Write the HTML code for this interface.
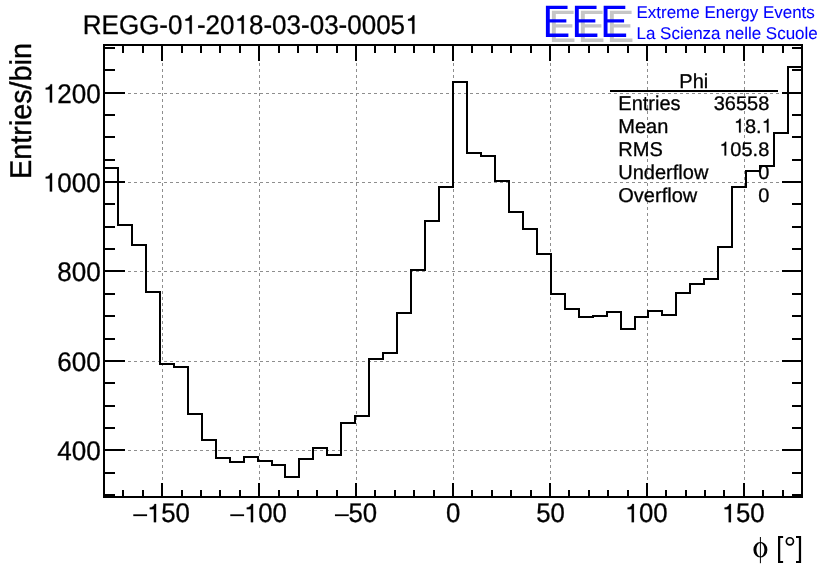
<!DOCTYPE html>
<html><head><meta charset="utf-8"><title>REGG-01-2018-03-03-00051</title>
<style>
html,body{margin:0;padding:0;background:#fff;}
body{width:836px;height:572px;overflow:hidden;font-family:"Liberation Sans",sans-serif;}
svg{display:block;will-change:transform;}
text{font-family:"Liberation Sans",sans-serif;text-rendering:geometricPrecision;}
</style></head><body>
<svg width="836" height="572" viewBox="0 0 836 572">
<g stroke="#8e8e8e" stroke-width="1" stroke-dasharray="3,3" shape-rendering="crispEdges" fill="none">
<line x1="162.5" y1="45" x2="162.5" y2="497"/>
<line x1="259.5" y1="45" x2="259.5" y2="497"/>
<line x1="356.5" y1="45" x2="356.5" y2="497"/>
<line x1="453.5" y1="45" x2="453.5" y2="497"/>
<line x1="550.5" y1="45" x2="550.5" y2="497"/>
<line x1="647.5" y1="45" x2="647.5" y2="497"/>
<line x1="744.5" y1="45" x2="744.5" y2="497"/>
<line x1="104" y1="450.5" x2="802" y2="450.5"/>
<line x1="104" y1="361.5" x2="802" y2="361.5"/>
<line x1="104" y1="271.5" x2="802" y2="271.5"/>
<line x1="104" y1="182.5" x2="802" y2="182.5"/>
<line x1="104" y1="93.5" x2="802" y2="93.5"/>
</g>
<path d="M104,497V168H118V225H132V245H146V292H160V364H174V367H188V414H202V440H216V458H230V462H244V457H258V461H272V465H285V477H299V459H313V448H327V455H341V423H355V416H369V359H383V353H397V313H411V270H425V221H439V187H453V82H467V153H481V156H495V181H509V212H523V229H537V254H551V294H565V309H579V317H593V316H607V312H621V329H635V317H648V311H662V315H676V293H690V284H704V279H718V247H732V187H746V171H760V166H774V133H788V67H802V497" fill="none" stroke="#000" stroke-width="2" stroke-linejoin="miter" stroke-linecap="square" shape-rendering="crispEdges"/>
<g stroke="#000" stroke-width="2" shape-rendering="crispEdges" fill="none">
<rect x="104" y="45" width="698" height="452" fill="none"/>
<line x1="123" y1="45" x2="123" y2="53"/>
<line x1="123" y1="497" x2="123" y2="490"/>
<line x1="143" y1="45" x2="143" y2="53"/>
<line x1="143" y1="497" x2="143" y2="490"/>
<line x1="162" y1="45" x2="162" y2="61"/>
<line x1="162" y1="497" x2="162" y2="483"/>
<line x1="182" y1="45" x2="182" y2="53"/>
<line x1="182" y1="497" x2="182" y2="490"/>
<line x1="201" y1="45" x2="201" y2="53"/>
<line x1="201" y1="497" x2="201" y2="490"/>
<line x1="220" y1="45" x2="220" y2="53"/>
<line x1="220" y1="497" x2="220" y2="490"/>
<line x1="240" y1="45" x2="240" y2="53"/>
<line x1="240" y1="497" x2="240" y2="490"/>
<line x1="259" y1="45" x2="259" y2="61"/>
<line x1="259" y1="497" x2="259" y2="483"/>
<line x1="279" y1="45" x2="279" y2="53"/>
<line x1="279" y1="497" x2="279" y2="490"/>
<line x1="298" y1="45" x2="298" y2="53"/>
<line x1="298" y1="497" x2="298" y2="490"/>
<line x1="317" y1="45" x2="317" y2="53"/>
<line x1="317" y1="497" x2="317" y2="490"/>
<line x1="337" y1="45" x2="337" y2="53"/>
<line x1="337" y1="497" x2="337" y2="490"/>
<line x1="356" y1="45" x2="356" y2="61"/>
<line x1="356" y1="497" x2="356" y2="483"/>
<line x1="375" y1="45" x2="375" y2="53"/>
<line x1="375" y1="497" x2="375" y2="490"/>
<line x1="395" y1="45" x2="395" y2="53"/>
<line x1="395" y1="497" x2="395" y2="490"/>
<line x1="414" y1="45" x2="414" y2="53"/>
<line x1="414" y1="497" x2="414" y2="490"/>
<line x1="434" y1="45" x2="434" y2="53"/>
<line x1="434" y1="497" x2="434" y2="490"/>
<line x1="453" y1="45" x2="453" y2="61"/>
<line x1="453" y1="497" x2="453" y2="483"/>
<line x1="472" y1="45" x2="472" y2="53"/>
<line x1="472" y1="497" x2="472" y2="490"/>
<line x1="492" y1="45" x2="492" y2="53"/>
<line x1="492" y1="497" x2="492" y2="490"/>
<line x1="511" y1="45" x2="511" y2="53"/>
<line x1="511" y1="497" x2="511" y2="490"/>
<line x1="531" y1="45" x2="531" y2="53"/>
<line x1="531" y1="497" x2="531" y2="490"/>
<line x1="550" y1="45" x2="550" y2="61"/>
<line x1="550" y1="497" x2="550" y2="483"/>
<line x1="569" y1="45" x2="569" y2="53"/>
<line x1="569" y1="497" x2="569" y2="490"/>
<line x1="589" y1="45" x2="589" y2="53"/>
<line x1="589" y1="497" x2="589" y2="490"/>
<line x1="608" y1="45" x2="608" y2="53"/>
<line x1="608" y1="497" x2="608" y2="490"/>
<line x1="628" y1="45" x2="628" y2="53"/>
<line x1="628" y1="497" x2="628" y2="490"/>
<line x1="647" y1="45" x2="647" y2="61"/>
<line x1="647" y1="497" x2="647" y2="483"/>
<line x1="666" y1="45" x2="666" y2="53"/>
<line x1="666" y1="497" x2="666" y2="490"/>
<line x1="686" y1="45" x2="686" y2="53"/>
<line x1="686" y1="497" x2="686" y2="490"/>
<line x1="705" y1="45" x2="705" y2="53"/>
<line x1="705" y1="497" x2="705" y2="490"/>
<line x1="724" y1="45" x2="724" y2="53"/>
<line x1="724" y1="497" x2="724" y2="490"/>
<line x1="744" y1="45" x2="744" y2="61"/>
<line x1="744" y1="497" x2="744" y2="483"/>
<line x1="763" y1="45" x2="763" y2="53"/>
<line x1="763" y1="497" x2="763" y2="490"/>
<line x1="783" y1="45" x2="783" y2="53"/>
<line x1="783" y1="497" x2="783" y2="490"/>
<line x1="104" y1="495" x2="115" y2="495"/>
<line x1="802" y1="495" x2="792" y2="495"/>
<line x1="104" y1="473" x2="115" y2="473"/>
<line x1="802" y1="473" x2="792" y2="473"/>
<line x1="104" y1="450" x2="125" y2="450"/>
<line x1="802" y1="450" x2="782" y2="450"/>
<line x1="104" y1="428" x2="115" y2="428"/>
<line x1="802" y1="428" x2="792" y2="428"/>
<line x1="104" y1="406" x2="115" y2="406"/>
<line x1="802" y1="406" x2="792" y2="406"/>
<line x1="104" y1="383" x2="115" y2="383"/>
<line x1="802" y1="383" x2="792" y2="383"/>
<line x1="104" y1="361" x2="125" y2="361"/>
<line x1="802" y1="361" x2="782" y2="361"/>
<line x1="104" y1="339" x2="115" y2="339"/>
<line x1="802" y1="339" x2="792" y2="339"/>
<line x1="104" y1="316" x2="115" y2="316"/>
<line x1="802" y1="316" x2="792" y2="316"/>
<line x1="104" y1="294" x2="115" y2="294"/>
<line x1="802" y1="294" x2="792" y2="294"/>
<line x1="104" y1="271" x2="125" y2="271"/>
<line x1="802" y1="271" x2="782" y2="271"/>
<line x1="104" y1="249" x2="115" y2="249"/>
<line x1="802" y1="249" x2="792" y2="249"/>
<line x1="104" y1="227" x2="115" y2="227"/>
<line x1="802" y1="227" x2="792" y2="227"/>
<line x1="104" y1="204" x2="115" y2="204"/>
<line x1="802" y1="204" x2="792" y2="204"/>
<line x1="104" y1="182" x2="125" y2="182"/>
<line x1="802" y1="182" x2="782" y2="182"/>
<line x1="104" y1="160" x2="115" y2="160"/>
<line x1="802" y1="160" x2="792" y2="160"/>
<line x1="104" y1="137" x2="115" y2="137"/>
<line x1="802" y1="137" x2="792" y2="137"/>
<line x1="104" y1="115" x2="115" y2="115"/>
<line x1="802" y1="115" x2="792" y2="115"/>
<line x1="104" y1="93" x2="125" y2="93"/>
<line x1="802" y1="93" x2="782" y2="93"/>
<line x1="104" y1="70" x2="115" y2="70"/>
<line x1="802" y1="70" x2="792" y2="70"/>
<line x1="104" y1="48" x2="115" y2="48"/>
<line x1="802" y1="48" x2="792" y2="48"/>
</g>
<text x="82.80" y="33.8" font-size="27" fill="#000" stroke="#000" stroke-width="0.3" textLength="99.68" lengthAdjust="spacingAndGlyphs">REGG-0</text>
<path transform="translate(182.48,33.8) scale(0.02600,-0.02600)" d="M271,0H359V709H296C284,640 232,584 112,568V505H271Z" fill="#000" stroke="#000" stroke-width="7.7"/>
<text x="196.94" y="33.8" font-size="27" fill="#000" stroke="#000" stroke-width="0.3" textLength="37.58" lengthAdjust="spacingAndGlyphs">-20</text>
<path transform="translate(234.52,33.8) scale(0.02600,-0.02600)" d="M271,0H359V709H296C284,640 232,584 112,568V505H271Z" fill="#000" stroke="#000" stroke-width="7.7"/>
<text x="248.98" y="33.8" font-size="27" fill="#000" stroke="#000" stroke-width="0.3" textLength="156.12" lengthAdjust="spacingAndGlyphs">8-03-03-0005</text>
<path transform="translate(405.10,33.8) scale(0.02600,-0.02600)" d="M271,0H359V709H296C284,640 232,584 112,568V505H271Z" fill="#000" stroke="#000" stroke-width="7.7"/>
<text x="57.24" y="459.6" font-size="27" fill="#000" stroke="#000" stroke-width="0.3" textLength="43.46" lengthAdjust="spacingAndGlyphs">400</text>
<text x="57.24" y="370.6" font-size="27" fill="#000" stroke="#000" stroke-width="0.3" textLength="43.46" lengthAdjust="spacingAndGlyphs">600</text>
<text x="57.24" y="280.6" font-size="27" fill="#000" stroke="#000" stroke-width="0.3" textLength="43.46" lengthAdjust="spacingAndGlyphs">800</text>
<path transform="translate(42.75,191.6) scale(0.02605,-0.02605)" d="M271,0H359V709H296C284,640 232,584 112,568V505H271Z" fill="#000" stroke="#000" stroke-width="7.7"/>
<text x="57.24" y="191.6" font-size="27" fill="#000" stroke="#000" stroke-width="0.3" textLength="43.46" lengthAdjust="spacingAndGlyphs">000</text>
<path transform="translate(42.75,102.6) scale(0.02605,-0.02605)" d="M271,0H359V709H296C284,640 232,584 112,568V505H271Z" fill="#000" stroke="#000" stroke-width="7.7"/>
<text x="57.24" y="102.6" font-size="27" fill="#000" stroke="#000" stroke-width="0.3" textLength="43.46" lengthAdjust="spacingAndGlyphs">200</text>
<rect x="133.28" y="514.33" width="13.80" height="1.8" fill="#000"/>
<path transform="translate(146.85,522.2) scale(0.02580,-0.02580)" d="M271,0H359V709H296C284,640 232,584 112,568V505H271Z" fill="#000" stroke="#000" stroke-width="7.8"/>
<text x="161.20" y="522.2" font-size="27" fill="#000" stroke="#000" stroke-width="0.3" textLength="28.70" lengthAdjust="spacingAndGlyphs">50</text>
<rect x="230.28" y="514.33" width="13.80" height="1.8" fill="#000"/>
<path transform="translate(243.85,522.2) scale(0.02580,-0.02580)" d="M271,0H359V709H296C284,640 232,584 112,568V505H271Z" fill="#000" stroke="#000" stroke-width="7.8"/>
<text x="258.20" y="522.2" font-size="27" fill="#000" stroke="#000" stroke-width="0.3" textLength="28.70" lengthAdjust="spacingAndGlyphs">00</text>
<rect x="334.95" y="514.33" width="13.80" height="1.8" fill="#000"/>
<text x="348.53" y="522.2" font-size="27" fill="#000" stroke="#000" stroke-width="0.3" textLength="28.70" lengthAdjust="spacingAndGlyphs">50</text>
<text x="446.03" y="522.2" font-size="27" fill="#000" stroke="#000" stroke-width="0.3" textLength="14.35" lengthAdjust="spacingAndGlyphs">0</text>
<text x="536.15" y="522.2" font-size="27" fill="#000" stroke="#000" stroke-width="0.3" textLength="28.70" lengthAdjust="spacingAndGlyphs">50</text>
<path transform="translate(624.68,522.2) scale(0.02580,-0.02580)" d="M271,0H359V709H296C284,640 232,584 112,568V505H271Z" fill="#000" stroke="#000" stroke-width="7.8"/>
<text x="639.03" y="522.2" font-size="27" fill="#000" stroke="#000" stroke-width="0.3" textLength="28.70" lengthAdjust="spacingAndGlyphs">00</text>
<path transform="translate(721.68,522.2) scale(0.02580,-0.02580)" d="M271,0H359V709H296C284,640 232,584 112,568V505H271Z" fill="#000" stroke="#000" stroke-width="7.8"/>
<text x="736.03" y="522.2" font-size="27" fill="#000" stroke="#000" stroke-width="0.3" textLength="28.70" lengthAdjust="spacingAndGlyphs">50</text>
<text transform="translate(31.3,179) rotate(-90)" font-size="30" stroke="#000" stroke-width="0.4" textLength="136" lengthAdjust="spacingAndGlyphs">Entries/bin</text>
<path d="M778,536.1H783.1V538H780.25V561H783.1V562.9H778Z M801.1,536.1H796V538H798.85V561H796V562.9H801.1Z" fill="#000"/>
<circle cx="789.9" cy="541.3" r="3.55" fill="none" stroke="#000" stroke-width="1.7"/>
<path fill-rule="evenodd" d="M753.4,549.8 a7,7.7 0 1,0 14,0 a7,7.7 0 1,0 -14,0 Z M756.4,549.8 a4,6.7 0 1,1 8,0 a4,6.7 0 1,1 -8,0 Z" fill="#000"/>
<rect x="759.9" y="537" width="1" height="26.2" fill="#000"/>
<text x="548.6" y="41.7" font-size="45.6" text-anchor="start" fill="#c6c6c6" textLength="27.7" lengthAdjust="spacingAndGlyphs">E</text>
<text x="577.6" y="41.7" font-size="45.6" text-anchor="start" fill="#c6c6c6" textLength="27.7" lengthAdjust="spacingAndGlyphs">E</text>
<text x="606.4" y="41.7" font-size="45.6" text-anchor="start" fill="#c6c6c6" textLength="27.7" lengthAdjust="spacingAndGlyphs">E</text>
<text x="542.5" y="36.7" font-size="45.6" text-anchor="start" fill="#0000ff" textLength="27.7" lengthAdjust="spacingAndGlyphs">E</text>
<text x="571.5" y="36.7" font-size="45.6" text-anchor="start" fill="#0000ff" textLength="27.7" lengthAdjust="spacingAndGlyphs">E</text>
<text x="600.3" y="36.7" font-size="45.6" text-anchor="start" fill="#0000ff" textLength="27.7" lengthAdjust="spacingAndGlyphs">E</text>
<text x="636.5" y="17.9" font-size="17" text-anchor="start" fill="#0000ff" stroke="#0000ff" stroke-width="0.1" textLength="178.3" lengthAdjust="spacingAndGlyphs">Extreme Energy Events</text>
<text x="636.5" y="38.9" font-size="17" text-anchor="start" fill="#0000ff" stroke="#0000ff" stroke-width="0.1" textLength="181.3" lengthAdjust="spacingAndGlyphs">La Scienza nelle Scuole</text>
<line x1="610" y1="91" x2="778" y2="91" stroke="#000" stroke-width="2" shape-rendering="crispEdges"/>
<text x="693.8" y="87.8" font-size="20" text-anchor="middle" fill="#000" stroke="#000" stroke-width="0.3">Phi</text>
<text x="618.3" y="109.7" font-size="20" text-anchor="start" fill="#000" stroke="#000" stroke-width="0.3">Entries</text>
<text x="713.68" y="109.7" font-size="19.8" fill="#000" stroke="#000" stroke-width="0.3" textLength="55.62" lengthAdjust="spacingAndGlyphs">36558</text>
<text x="618.3" y="132.6" font-size="20" text-anchor="start" fill="#000" stroke="#000" stroke-width="0.3">Mean</text>
<path transform="translate(733.77,132.6) scale(0.01940,-0.01940)" d="M271,0H359V709H296C284,640 232,584 112,568V505H271Z" fill="#000" stroke="#000" stroke-width="10.3"/>
<text x="744.90" y="132.6" font-size="19.8" fill="#000" stroke="#000" stroke-width="0.3" textLength="16.68" lengthAdjust="spacingAndGlyphs">8.</text>
<path transform="translate(761.58,132.6) scale(0.01940,-0.01940)" d="M271,0H359V709H296C284,640 232,584 112,568V505H271Z" fill="#000" stroke="#000" stroke-width="10.3"/>
<text x="618.3" y="155.5" font-size="20" text-anchor="start" fill="#000" stroke="#000" stroke-width="0.3">RMS</text>
<path transform="translate(719.25,155.5) scale(0.01940,-0.01940)" d="M271,0H359V709H296C284,640 232,584 112,568V505H271Z" fill="#000" stroke="#000" stroke-width="10.3"/>
<text x="730.37" y="155.5" font-size="19.8" fill="#000" stroke="#000" stroke-width="0.3" textLength="38.93" lengthAdjust="spacingAndGlyphs">05.8</text>
<text x="618.3" y="178.6" font-size="20" text-anchor="start" fill="#000" stroke="#000" stroke-width="0.3">Underflow</text>
<text x="758.18" y="178.6" font-size="19.8" fill="#000" stroke="#000" stroke-width="0.3" textLength="11.12" lengthAdjust="spacingAndGlyphs">0</text>
<text x="618.3" y="201.6" font-size="20" text-anchor="start" fill="#000" stroke="#000" stroke-width="0.3">Overflow</text>
<text x="758.18" y="201.6" font-size="19.8" fill="#000" stroke="#000" stroke-width="0.3" textLength="11.12" lengthAdjust="spacingAndGlyphs">0</text>
</svg>
</body></html>
